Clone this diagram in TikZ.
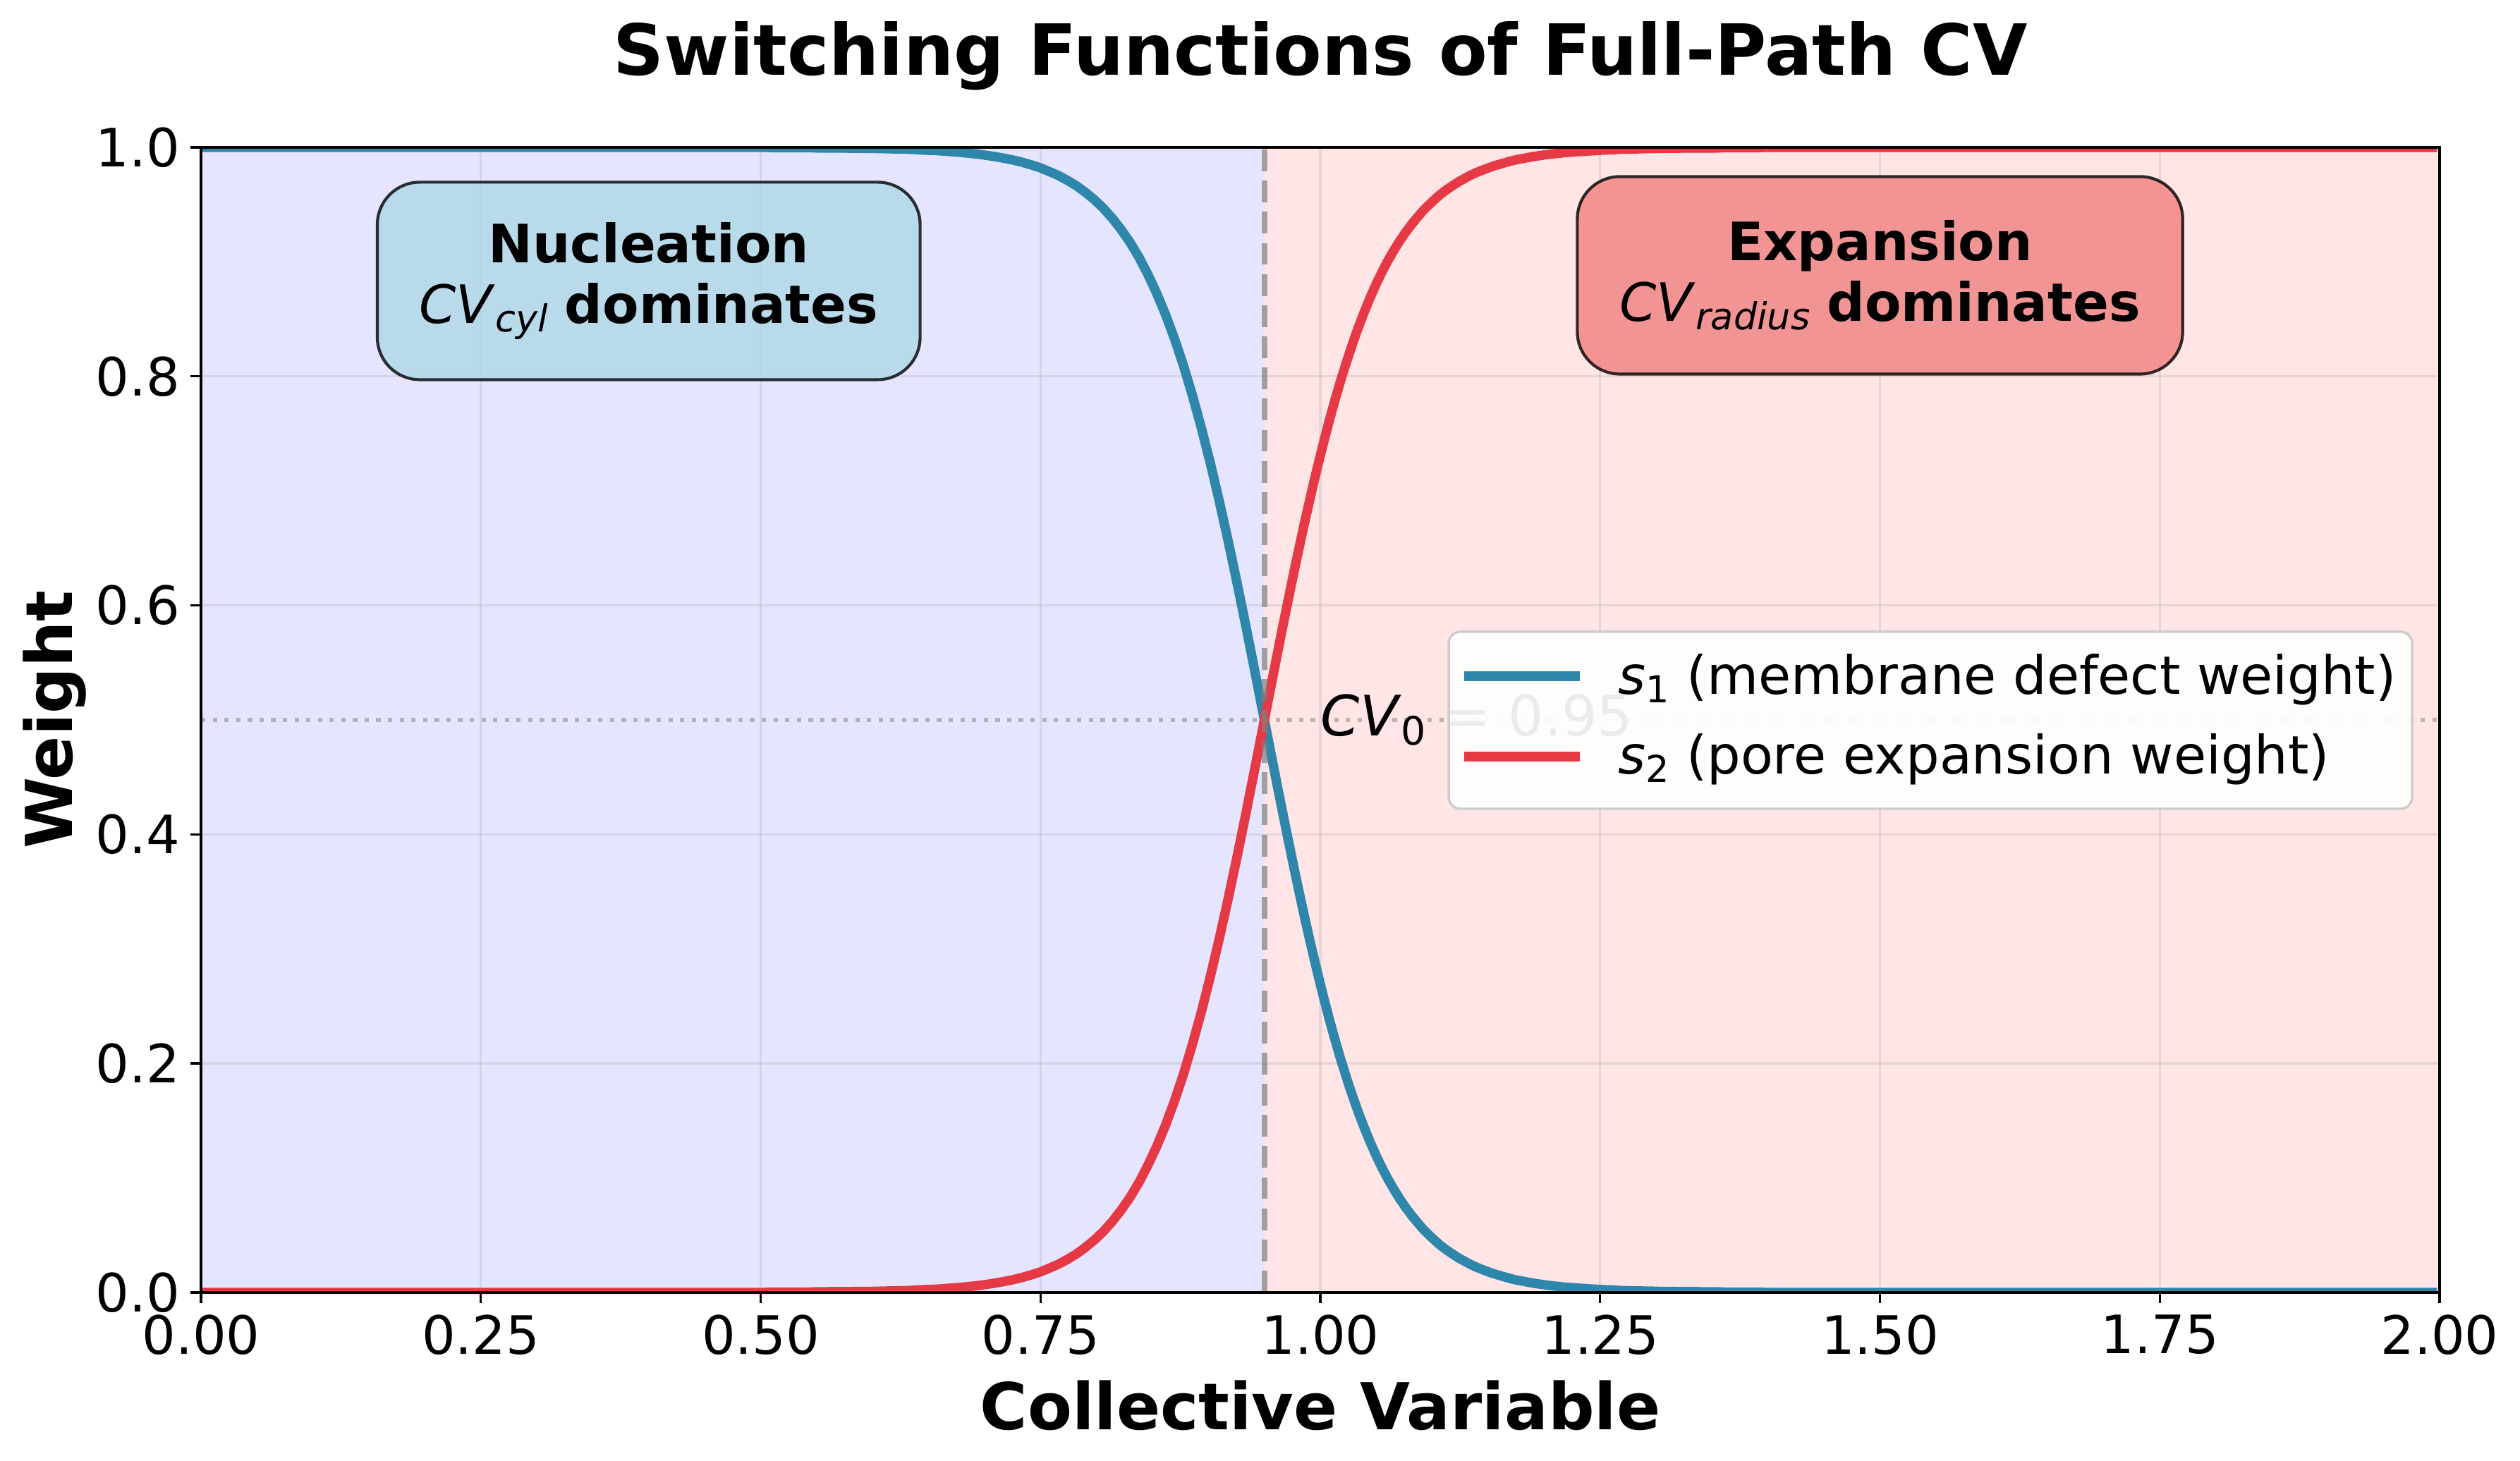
\documentclass[tikz,border=0pt]{standalone}
\usepackage{fontspec}
\setmainfont{DejaVu Sans}
\definecolor{defblue}{HTML}{2E86AB}
\definecolor{porered}{HTML}{E63946}
\definecolor{gridgray}{HTML}{B0B0B0}
\definecolor{nucfill}{HTML}{ADD8E6}
\definecolor{expfill}{HTML}{F08080}
\newcommand{\msub}[1]{\raisebox{-0.16em}{\scalebox{0.7}{#1}}}
\tikzset{
  curve/.style={line width=3.2pt, line join=round},
  gridline/.style={draw=gridgray, draw opacity=0.3, line width=0.8pt},
  ticklabel/.style={font=\fontsize{18}{21.6}\selectfont, inner sep=0pt},
  axislabel/.style={font=\fontsize{22}{26}\selectfont\bfseries, inner sep=0pt},
  regionbox/.style={draw=black, draw opacity=0.8, line width=1pt, fill opacity=0.8, text opacity=1,
    rounded corners=14.4pt, align=center, font=\fontsize{18}{20.7}\selectfont, minimum height=67.2pt, inner sep=0pt},
  legendtext/.style={font=\fontsize{18}{21.6}\selectfont, inner sep=0pt, anchor=base west},
  declare function={swlo(\t)=1/(1+exp(20*(\t-0.95))); swhi(\t)=1/(1+exp(-20*(\t-0.95)));}
}
\begin{document}
\begin{tikzpicture}[x=380.88pt, y=389.76pt, line cap=butt]
\useasboundingbox (-68.4pt,-57.36pt) rectangle (789.1pt,439.9pt);
\fill[white] (-68.4pt,-57.36pt) rectangle (789.1pt,439.9pt);
% regions
\fill[blue, fill opacity=0.1] (0,0) rectangle (0.95,1);
\fill[red, fill opacity=0.1] (0.95,0) rectangle (2,1);
% grid
\foreach \xv in {0,0.25,0.5,0.75,1,1.25,1.5,1.75,2}
  \draw[gridline] (\xv,0) -- (\xv,1);
\foreach \yv in {0,0.2,0.4,0.6,0.8,1}
  \draw[gridline] (0,\yv) -- (2,\yv);
% switching curves
\begin{scope}
  \clip (0,0) rectangle (2,1);
  \draw[curve, defblue] plot[domain=0:0.95, samples=120] (\x,{swlo(\x)}) -- plot[domain=0.95:2, samples=200] (\x,{1-swhi(\x)});
  \draw[curve, porered] plot[domain=0:0.95, samples=120] (\x,{1-swlo(\x)}) -- plot[domain=0.95:2, samples=200] (\x,{swhi(\x)});
\end{scope}
\draw[gray, draw opacity=0.7, line width=2pt, dash pattern=on 7.4pt off 3.2pt] (0.95,0) -- (0.95,1);
\draw[gray, draw opacity=0.5, line width=1.5pt, dash pattern=on 1.5pt off 2.475pt] (0,0.5) -- (2,0.5);
\node[anchor=west, inner sep=0pt, font=\fontsize{19}{23}\selectfont] (cvlabel) at (1.0,0.5) {\textit{CV}\msub{0} = 0.95};
% region boxes
\node[regionbox, fill=nucfill, minimum width=184.7pt] (nucbox) at (0.40,0.8833)
  {\textbf{Nucleation}\\\textit{CV}\msub{\textit{cyl}} \textbf{dominates}};
\node[regionbox, fill=expfill, minimum width=206pt] (expbox) at (1.50,0.8882)
  {\textbf{Expansion}\\\textit{CV}\msub{\textit{radius}} \textbf{dominates}};
% legend
\draw[draw=black!20, line width=0.8pt, fill=white, fill opacity=0.92, rounded corners=4pt] (1.1147,0.4224) rectangle (1.9754,0.577);
\draw[curve, defblue] (1.1285,0.5382) -- (1.2319,0.5382);
\node[legendtext] (s1entry) at (1.2659,0.5222) {\textit{s}\msub{1} (membrane defect weight)};
\draw[curve, porered] (1.1285,0.468) -- (1.2319,0.468);
\node[legendtext] (s2entry) at (1.2659,0.4526) {\textit{s}\msub{2} (pore expansion weight)};
% axes
\draw[line width=0.8pt] (0,0) rectangle (2,1);
\foreach \xv/\xl [count=\i] in {0/0.00,0.25/0.25,0.5/0.50,0.75/0.75,1/1.00,1.25/1.25,1.5/1.50,1.75/1.75,2/2.00}{
  \draw[line width=0.8pt] (\xv,0) -- ++(0,-3.5pt);
  \node[ticklabel, anchor=north] (xtick\i) at ([yshift=-7.4pt]\xv,0) {\xl};
}
\foreach \yv/\yl [count=\i] in {0/0.0,0.2/0.2,0.4/0.4,0.6/0.6,0.8/0.8,1/1.0}{
  \draw[line width=0.8pt] (0,\yv) -- ++(-3.5pt,0);
  \node[ticklabel, anchor=east] (ytick\i) at ([xshift=-7pt]0,\yv) {\yl};
}
\node[axislabel, anchor=base] (xlabel) at (1,-0.1201) {Collective Variable};
\node[axislabel, anchor=base, rotate=90] (ylabel) at (-0.1147,0.5) {Weight};
\node[font=\fontsize{24}{29}\selectfont\bfseries, inner sep=0pt, anchor=base] (title) at (1,1.0628) {Switching Functions of Full-Path CV};
\end{tikzpicture}
\end{document}
